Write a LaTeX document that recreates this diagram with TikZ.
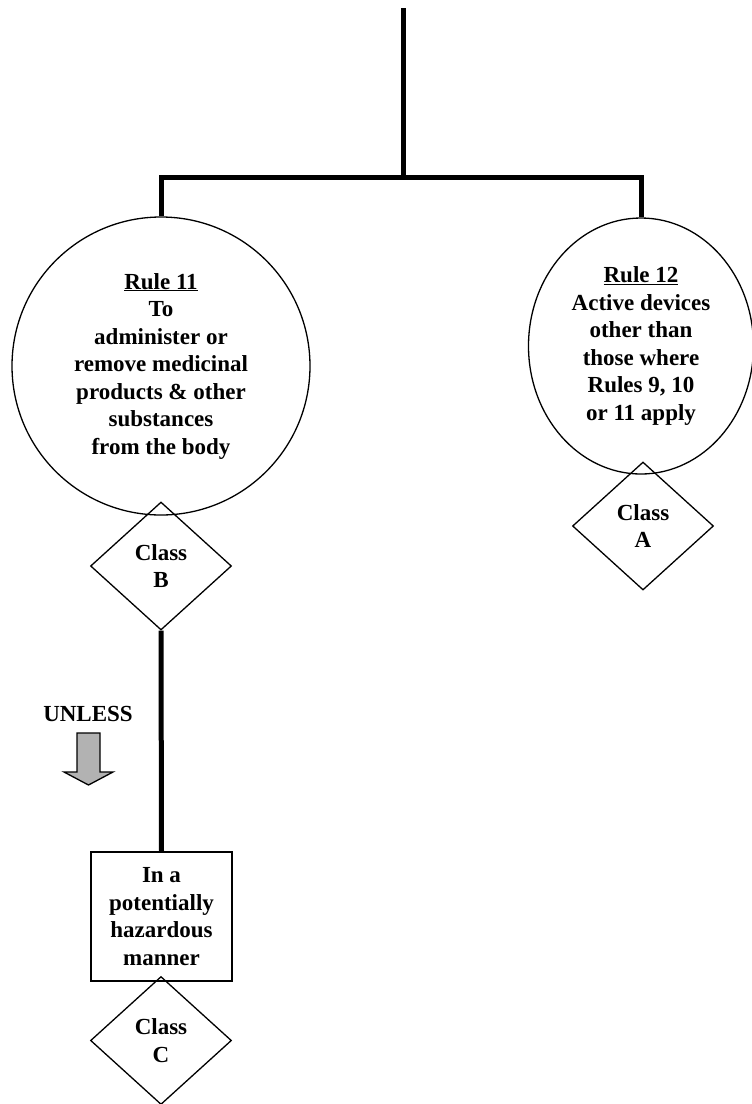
\documentclass[tikz,border=0pt]{standalone}
\usepackage{fontspec}
\setmainfont{Liberation Serif}
\usetikzlibrary{shapes.geometric}
\begin{document}
\begin{tikzpicture}[x=1pt,y=-1pt,
  every node/.style={font=\bfseries\fontsize{23}{27.5}\selectfont, align=center},
  thinline/.style={line width=1.3pt},
  conn/.style={line width=5pt},
  rulecircle/.style={draw, thinline, circle, inner sep=0pt, minimum size=298pt},
  ruleellipse/.style={draw, thinline, ellipse, inner sep=0pt, minimum width=225pt, minimum height=256pt},
  classdiamond/.style={draw, thinline, diamond, inner sep=0pt, aspect=1.1, minimum width=141pt, minimum height=128pt},
  stepbox/.style={draw, thinline, rectangle, inner sep=0pt, minimum width=141pt, minimum height=129pt},
  grayarrow/.style={draw, thinline, fill=gray!60}]
\useasboundingbox (0,0) rectangle (752,1104);

\coordinate (top) at (403,8);
\coordinate (junc) at (403,177.5);

\node[rulecircle] (r11) at (161,366)
  {\underline{Rule 11}\\To\\administer or\\remove medicinal\\products \& other\\substances\\from the body};
\node[ruleellipse] (r12) at (641,346)
  {\underline{Rule 12}\\Active devices\\other than\\those where\\Rules 9, 10\\or 11 apply};
\node[classdiamond] (cb) at (161,566) {Class\\B};
\node[classdiamond] (ca) at (643,526) {Class\\A};
\node[stepbox] (haz) at (161.5,916.5) {In a\\potentially\\hazardous\\manner};
\node[classdiamond] (cc) at (161,1040.5) {Class\\C};
\node (unless) at (88,714) {UNLESS};

\draw[conn] (top) -- (junc);
\draw[conn] (r11.north) |- (junc) -| (r12.north);
\draw[conn] (cb.south) -- (haz.north);

\draw[grayarrow] (77,733) -- (100,733) -- (100,772) -- (113,772) -- (88.5,785)
  -- (64,772) -- (77,772) -- cycle;
\end{tikzpicture}
\end{document}
